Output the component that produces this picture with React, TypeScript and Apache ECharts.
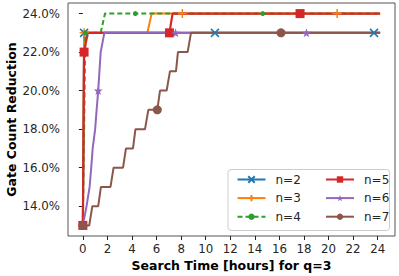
import React, { useEffect, useRef } from "react";
import * as echarts from "echarts";

// ---- data ----
const xTicks = [0, 2, 4, 6, 8, 10, 12, 14, 16, 18, 20, 22, 24];
const yTicks = [14, 16, 18, 20, 22, 24];

const n2Time = [0, 0.1, 10.75, 23.7, 24.2];
const n2Gain = [13, 23, 23, 23, 23];
const n2Marks = [1, 2, 3];

const n3Time = [0, 0.1, 5.25, 5.6, 8.1, 20.7, 24.2];
const n3Gain = [13, 23, 23, 24, 24, 24, 24];
const n3Marks = [1, 4, 5];

const n4Time = [0, 0.2, 1.45, 1.8, 4.27, 14.64, 24.2];
const n4Gain = [13, 23, 23, 24, 24, 24, 24];
const n4Marks = [1, 4, 5];

const n5Time = [0, 0.1, 0.4, 7.05, 7.3, 17.68, 24.2];
const n5Gain = [13, 22, 23, 23, 24, 24, 24];
const n5Marks = [0, 1, 3, 5];

const n6Time = [0, 0.3, 0.55, 0.68, 0.8, 1.0, 1.12, 1.25, 1.35, 1.45, 1.75, 7.55, 18.2, 24.2];
const n6Gain = [13, 14, 15, 16, 17, 18, 19, 20, 21, 22, 23, 23, 23, 23];
const n6Marks = [7, 11, 12];

const n7Time = [0, 0.52, 0.77, 1.25, 1.47, 2.25, 2.5, 3.27, 3.51, 4.08, 4.28, 5.06, 5.33, 6.06, 6.28, 6.82, 7.09, 7.58, 7.74, 8.53, 8.8, 16.13, 24.2];
const n7Gain = [13, 13, 14, 14, 15, 15, 16, 16, 17, 17, 18, 18, 19, 19, 20, 20, 21, 21, 22, 22, 23, 23, 23];
const n7Marks = [0, 13, 21];

const seriesNames = ["n=2", "n=3", "n=4", "n=5", "n=6", "n=7"];

const FONT = "DejaVu Sans";

const starPath =
  "path://" +
  Array.from({ length: 10 }, (_, i) => {
    const r = i % 2 ? 0.4 : 1;
    const a = -Math.PI / 2 + (i * Math.PI) / 5;
    return (i ? "L" : "M") + (r * Math.cos(a)).toFixed(3) + "," + (r * Math.sin(a)).toFixed(3);
  }).join("") +
  "Z";

function build(t: number[], v: number[], marks: number[]) {
  return t.map((x, i) =>
    marks.includes(i) ? { value: [x, v[i]] } : { value: [x, v[i]], symbol: "none" }
  );
}

export default function App() {
  const ref = useRef<HTMLDivElement>(null);
  useEffect(() => {
    if (!ref.current) return;
    const chart = echarts.init(ref.current, undefined, { renderer: "svg" });
    const mk = (
      name: string,
      color: string,
      data: any[],
      symbol: string,
      symbolSize: number,
      stroke: boolean,
      dashed = false,
      width = 2
    ) => ({
      name,
      type: "line",
      data,
      symbol,
      symbolSize,
      showAllSymbol: true,
      lineStyle: { color, width, type: dashed ? [5, 3] : "solid" },
      itemStyle: stroke
        ? { color: "none", borderColor: color, borderWidth: 1.5 }
        : { color, borderColor: color, borderWidth: 0 },
      emphasis: { disabled: true },
    });
    const legendBase = {
      orient: "vertical",
      top: 168,
      itemWidth: 28,
      itemHeight: 8,
      itemGap: 5.6,
      selectedMode: false,
      textStyle: { fontFamily: FONT, fontSize: 12, color: "#262626", lineHeight: 13, padding: [0, 0, 0, 5] },
    };
    chart.setOption({
      animation: false,
      grid: {
        left: 68,
        top: 3,
        right: 4,
        bottom: 40,
        outerBoundsMode: "none",
        containLabel: false,
        show: true,
        borderColor: "#555",
        borderWidth: 1,
        backgroundColor: "#fff",
      },
      xAxis: {
        type: "value",
        min: -1.21,
        max: 25.41,
        name: "Search Time [hours] for q=3",
        nameLocation: "middle",
        nameGap: 23,
        nameMoveOverlap: false,
        nameTextStyle: { fontFamily: FONT, fontWeight: "bold", fontSize: 12.5, color: "#000" },
        axisLine: { show: false },
        splitLine: { show: false },
        axisTick: { show: true, length: 4, customValues: xTicks, lineStyle: { color: "#222", width: 1 } },
        axisLabel: { customValues: xTicks, margin: 7, fontFamily: FONT, fontSize: 11.8, color: "#262626" },
      },
      yAxis: {
        type: "value",
        min: 12.45,
        max: 24.55,
        name: "Gate Count Reduction",
        nameLocation: "middle",
        nameGap: 50,
        nameMoveOverlap: false,
        nameTextStyle: { fontFamily: FONT, fontWeight: "bold", fontSize: 12.5, color: "#000", lineHeight: 14 },
        axisLine: { show: false },
        splitLine: { show: false },
        axisTick: { show: true, length: 4, customValues: yTicks, lineStyle: { color: "#222", width: 1 } },
        axisLabel: {
          customValues: yTicks,
          margin: 8,
          fontFamily: FONT,
          fontSize: 11.8,
          color: "#262626",
          formatter: (v: number) => v.toFixed(1) + "%",
        },
      },
      legend: [
        { ...legendBase, data: seriesNames.slice(0, 3), left: 231.5 },
        { ...legendBase, data: seriesNames.slice(3), left: 320 },
      ],
      graphic: [
        {
          type: "rect",
          left: 227.5,
          top: 169,
          z: 3,
          shape: { width: 161.5, height: 61, r: 3 },
          style: { fill: "rgba(255,255,255,0.85)", stroke: "#ccc", lineWidth: 1 },
        },
      ],
      series: [
        mk(seriesNames[0], "#1f77b4", build(n2Time, n2Gain, n2Marks), "path://M0,0L10,10M0,10L10,0", 8, true),
        mk(seriesNames[1], "#ff7f0e", build(n3Time, n3Gain, n3Marks), "path://M5,0L5,10M0,5L10,5", 9, true),
        mk(seriesNames[2], "#2ca02c", build(n4Time, n4Gain, n4Marks), "circle", 5, false, true),
        mk(seriesNames[3], "#d62728", build(n5Time, n5Gain, n5Marks), "rect", 9, false, false, 2.2),
        mk(seriesNames[4], "#9467bd", build(n6Time, n6Gain, n6Marks), starPath, 9, false),
        mk(seriesNames[5], "#8c564b", build(n7Time, n7Gain, n7Marks), "circle", 9, false),
      ],
    });
    return () => chart.dispose();
  }, []);
  return <div ref={ref} style={{ width: 399, height: 276, position: "absolute", left: 0, top: 0 }} />;
}
